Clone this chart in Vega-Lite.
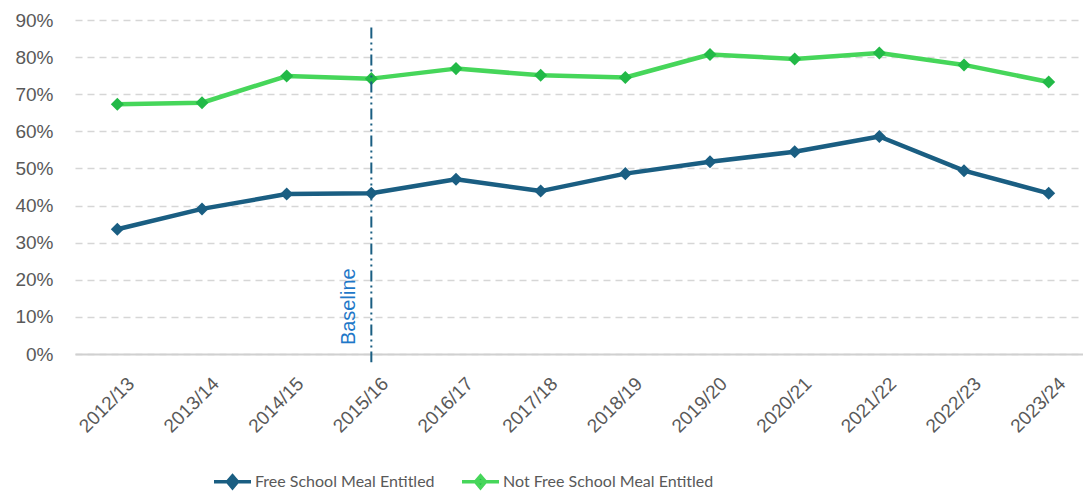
{
  "$schema": "https://vega.github.io/schema/vega-lite/v6.json",
  "width": 1016,
  "height": 334,
  "autosize": {"type": "none"},
  "padding": {"left": 75, "top": 20, "right": 0, "bottom": 137},
  "background": "white",
  "config": {
    "view": {"stroke": null},
    "axis": {"labelFont": "Liberation Sans", "labelColor": "#595959", "labelFontSize": 19, "labelOverlap": false}
  },
  "datasets": {
    "main": [
      {"year": "2012/13", "group": "Free School Meal Entitled", "rate": 0.336},
      {"year": "2013/14", "group": "Free School Meal Entitled", "rate": 0.391},
      {"year": "2014/15", "group": "Free School Meal Entitled", "rate": 0.431},
      {"year": "2015/16", "group": "Free School Meal Entitled", "rate": 0.433},
      {"year": "2016/17", "group": "Free School Meal Entitled", "rate": 0.471},
      {"year": "2017/18", "group": "Free School Meal Entitled", "rate": 0.439},
      {"year": "2018/19", "group": "Free School Meal Entitled", "rate": 0.486},
      {"year": "2019/20", "group": "Free School Meal Entitled", "rate": 0.518},
      {"year": "2020/21", "group": "Free School Meal Entitled", "rate": 0.545},
      {"year": "2021/22", "group": "Free School Meal Entitled", "rate": 0.586},
      {"year": "2022/23", "group": "Free School Meal Entitled", "rate": 0.494},
      {"year": "2023/24", "group": "Free School Meal Entitled", "rate": 0.433},
      {"year": "2012/13", "group": "Not Free School Meal Entitled", "rate": 0.673},
      {"year": "2013/14", "group": "Not Free School Meal Entitled", "rate": 0.677},
      {"year": "2014/15", "group": "Not Free School Meal Entitled", "rate": 0.749},
      {"year": "2015/16", "group": "Not Free School Meal Entitled", "rate": 0.742},
      {"year": "2016/17", "group": "Not Free School Meal Entitled", "rate": 0.769},
      {"year": "2017/18", "group": "Not Free School Meal Entitled", "rate": 0.751},
      {"year": "2018/19", "group": "Not Free School Meal Entitled", "rate": 0.745},
      {"year": "2019/20", "group": "Not Free School Meal Entitled", "rate": 0.807},
      {"year": "2020/21", "group": "Not Free School Meal Entitled", "rate": 0.795},
      {"year": "2021/22", "group": "Not Free School Meal Entitled", "rate": 0.811},
      {"year": "2022/23", "group": "Not Free School Meal Entitled", "rate": 0.779},
      {"year": "2023/24", "group": "Not Free School Meal Entitled", "rate": 0.733}
    ],
    "baseline": [
      {"year": "2015/16", "top": 0.88, "bottom": -0.022, "labelpos": 0.024, "label": "Baseline"}
    ]
  },
  "layer": [
    {
      "data": {"name": "main"},
      "mark": {"type": "line", "strokeWidth": 4.5, "strokeJoin": "round"},
      "encoding": {
        "x": {
          "field": "year", "type": "ordinal", "title": null,
          "scale": {"type": "point", "padding": 0.5},
          "axis": {"labelFont": "Liberation Sans", "labelFontSize": 19, "labelAngle": -45, "labelAlign": "right", "labelBaseline": "top", "ticks": false, "domainColor": "#d0d0d0", "domainWidth": 2, "labelPadding": 20, "labelOffset": 7}
        },
        "y": {
          "field": "rate", "type": "quantitative", "title": null,
          "scale": {"domain": [0, 0.9]},
          "axis": {"labelFont": "Liberation Sans", "labelFontSize": 19, "format": ".0%", "values": [0, 0.1, 0.2, 0.3, 0.4, 0.5, 0.6, 0.7, 0.8, 0.9], "domain": false, "ticks": false, "gridDash": [7, 5], "gridColor": "#d6d6d6", "gridWidth": 1.5, "labelPadding": 22}
        },
        "stroke": {
          "field": "group", "type": "nominal",
          "scale": {"domain": ["Free School Meal Entitled", "Not Free School Meal Entitled"], "range": ["#1a5e82", "#46d65a"]},
          "legend": {
            "title": null, "orient": "none", "legendX": 137, "legendY": 441, "direction": "horizontal", "columns": 2,
            "symbolType": "M-1,0H1M0,-0.32L0.27,0L0,0.32L-0.27,0Z", "symbolSize": 1369, "symbolStrokeWidth": 3.5,
            "labelFont": "Lato", "labelFontSize": 16, "labelLimit": 500, "labelColor": "#595959", "labelOffset": 2, "columnPadding": 20
          }
        }
      }
    },
    {
      "data": {"name": "main"},
      "mark": {"type": "point", "shape": "diamond", "filled": true, "opacity": 1, "size": 170},
      "encoding": {
        "x": {
          "field": "year", "type": "ordinal", "title": null,
          "axis": {"labelFont": "Liberation Sans", "labelFontSize": 19, "labelAngle": -45, "labelAlign": "right", "labelBaseline": "top", "ticks": false, "domainColor": "#d0d0d0", "domainWidth": 2, "labelPadding": 20, "labelOffset": 7}
        },
        "y": {
          "field": "rate", "type": "quantitative", "title": null,
          "axis": {"labelFont": "Liberation Sans", "labelFontSize": 19, "format": ".0%", "values": [0, 0.1, 0.2, 0.3, 0.4, 0.5, 0.6, 0.7, 0.8, 0.9], "domain": false, "ticks": false, "gridDash": [7, 5], "gridColor": "#d6d6d6", "gridWidth": 1.5, "labelPadding": 22}
        },
        "fill": {
          "field": "group", "type": "nominal",
          "scale": {"domain": ["Free School Meal Entitled", "Not Free School Meal Entitled"], "range": ["#1a5e82", "#22b947"]},
          "legend": null
        }
      }
    },
    {
      "data": {"name": "baseline"},
      "mark": {"type": "rule", "color": "#1a5e82", "strokeWidth": 2, "strokeDash": [11, 4, 2, 4, 2, 4]},
      "encoding": {
        "x": {
          "field": "year", "type": "ordinal", "title": null,
          "axis": {"labelFont": "Liberation Sans", "labelFontSize": 19, "labelAngle": -45, "labelAlign": "right", "labelBaseline": "top", "ticks": false, "domainColor": "#d0d0d0", "domainWidth": 2, "labelPadding": 20, "labelOffset": 7}
        },
        "y": {
          "field": "top", "type": "quantitative", "title": null,
          "axis": {"labelFont": "Liberation Sans", "labelFontSize": 19, "format": ".0%", "values": [0, 0.1, 0.2, 0.3, 0.4, 0.5, 0.6, 0.7, 0.8, 0.9], "domain": false, "ticks": false, "gridDash": [7, 5], "gridColor": "#d6d6d6", "gridWidth": 1.5, "labelPadding": 22}
        },
        "y2": {"field": "bottom"}
      }
    },
    {
      "data": {"name": "baseline"},
      "mark": {"type": "text", "angle": 270, "align": "left", "baseline": "middle", "xOffset": -22, "color": "#1f78c8", "font": "Liberation Sans", "fontSize": 20},
      "encoding": {
        "x": {
          "field": "year", "type": "ordinal", "title": null,
          "axis": {"labelFont": "Liberation Sans", "labelFontSize": 19, "labelAngle": -45, "labelAlign": "right", "labelBaseline": "top", "ticks": false, "domainColor": "#d0d0d0", "domainWidth": 2, "labelPadding": 20, "labelOffset": 7}
        },
        "y": {
          "field": "labelpos", "type": "quantitative", "title": null,
          "axis": {"labelFont": "Liberation Sans", "labelFontSize": 19, "format": ".0%", "values": [0, 0.1, 0.2, 0.3, 0.4, 0.5, 0.6, 0.7, 0.8, 0.9], "domain": false, "ticks": false, "gridDash": [7, 5], "gridColor": "#d6d6d6", "gridWidth": 1.5, "labelPadding": 22}
        },
        "text": {"field": "label"}
      }
    }
  ]
}
